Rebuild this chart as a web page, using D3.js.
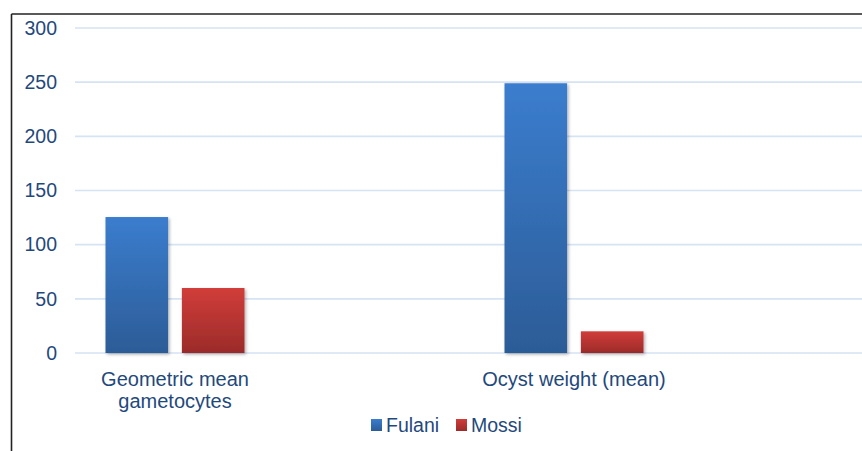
<!DOCTYPE html>
<html lang="en">
<head>
  <meta charset="UTF-8" />
  <title>Fulani vs Mossi</title>
  <style>
    body { margin: 0; background: #fff; }
    svg { display: block; }
    text { font-family: "Liberation Sans", Arial, sans-serif; fill: #1f497d; }
  </style>
</head>
<body>
<script src="https://cdn.jsdelivr.net/npm/d3@7"></script>
<script>
    // data
    var categories = ["Geometric mean|gametocytes", "Ocyst weight (mean)"];
    var seriesNames = ["Fulani", "Mossi"];
    var fulani = [125.5, 249];
    var mossi = [60, 20];
    var yTicks = [0, 50, 100, 150, 200, 250, 300];

    var w = 862, h = 451;
    var svg = d3.select("body").append("svg")
        .attr("width", w).attr("height", h);

    // gradients + shadow
    var defs = svg.append("defs");
    var grads = [["gBlue", "#3b7dce", "#2c5c97"], ["gRed", "#d13d3a", "#9b2b29"]];
    grads.forEach(function(g) {
      var lg = defs.append("linearGradient").attr("id", g[0])
          .attr("x1", 0).attr("y1", 0).attr("x2", 0).attr("y2", 1);
      lg.append("stop").attr("offset", "0%").attr("stop-color", g[1]);
      lg.append("stop").attr("offset", "100%").attr("stop-color", g[2]);
    });
    defs.append("filter").attr("id", "shadow")
        .attr("x", "-20%").attr("y", "-10%").attr("width", "140%").attr("height", "130%")
      .append("feDropShadow")
        .attr("dx", 1.5).attr("dy", 1.5).attr("stdDeviation", 1.5)
        .attr("flood-color", "#000").attr("flood-opacity", 0.3);

    // frame (only top and left edges visible)
    svg.append("line").attr("x1", 11.5).attr("x2", w).attr("y1", 14).attr("y2", 14)
        .attr("stroke", "#222").attr("stroke-width", 1.6);
    svg.append("line").attr("x1", 11.5).attr("x2", 11.5).attr("y1", 14).attr("y2", h)
        .attr("stroke", "#222").attr("stroke-width", 1.6);

    var gridLeft = 75;
    var yScale = d3.scaleLinear().domain([0, 300]).range([353, 28]);

    // gridlines
    svg.append("g").selectAll("line").data(yTicks).enter().append("line")
        .attr("x1", gridLeft).attr("x2", w)
        .attr("y1", function(d) { return yScale(d); })
        .attr("y2", function(d) { return yScale(d); })
        .attr("stroke", "#d6e3f3").attr("stroke-width", 1.6);

    // y axis labels
    var yAxis = d3.axisLeft(yScale).tickValues(yTicks).tickSize(0).tickPadding(0);
    var ya = svg.append("g").attr("transform", "translate(57,0)").call(yAxis);
    ya.select(".domain").remove();
    ya.selectAll("text").style("font-size", "19.5px")
        .style("font-family", "\"Liberation Sans\", Arial, sans-serif")
        .attr("fill", "#1f497d");

    // category positions
    var xScale = d3.scalePoint().domain(categories).range([175, 574]);
    var inner = d3.scaleBand().domain(seriesNames).range([-69.5, 69.5]).paddingInner(0.18);
    var fills = { "Fulani": "url(#gBlue)", "Mossi": "url(#gRed)" };

    var rows = [];
    categories.forEach(function(c, i) {
      rows.push({ cat: c, s: "Fulani", v: fulani[i] });
      rows.push({ cat: c, s: "Mossi", v: mossi[i] });
    });

    svg.append("g").selectAll("rect").data(rows).enter().append("rect")
        .attr("x", function(d) { return xScale(d.cat) + inner(d.s); })
        .attr("y", function(d) { return yScale(d.v); })
        .attr("width", inner.bandwidth())
        .attr("height", function(d) { return yScale(0) - yScale(d.v); })
        .attr("fill", function(d) { return fills[d.s]; })
        .attr("filter", "url(#shadow)");

    // category labels
    var cl = svg.append("g").selectAll("text").data(categories).enter().append("text")
        .attr("x", function(d) { return xScale(d); })
        .attr("y", 386)
        .attr("text-anchor", "middle")
        .style("font-size", "20px");
    cl.each(function(d) {
      var parts = d.split("|");
      var t = d3.select(this);
      parts.forEach(function(p, i) {
        t.append("tspan").attr("x", xScale(d)).attr("dy", i === 0 ? 0 : 22).text(p);
      });
    });

    // legend
    var legendX = [371, 456];
    var legendFill = ["url(#gBlue)", "url(#gRed)"];
    var lg = svg.append("g").selectAll("g").data(seriesNames).enter().append("g")
        .attr("transform", function(d, i) { return "translate(" + legendX[i] + ",419)"; });
    lg.append("rect").attr("width", 11).attr("height", 12)
        .attr("fill", function(d, i) { return legendFill[i]; });
    lg.append("text").attr("x", 15).attr("y", 13).style("font-size", "19.5px")
        .text(function(d) { return d; });
</script>
</body>
</html>
